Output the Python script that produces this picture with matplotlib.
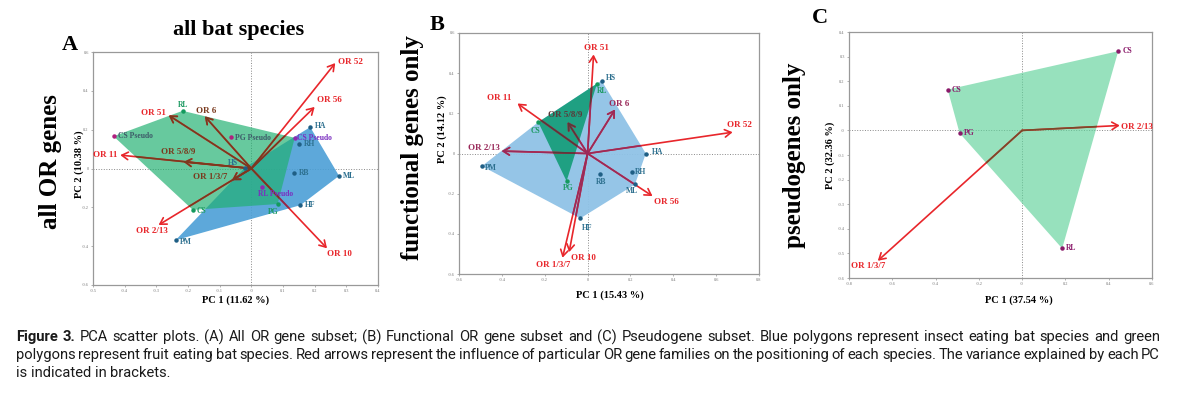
import matplotlib.pyplot as plt
import numpy as np
from matplotlib.patches import Polygon, FancyArrowPatch
from matplotlib.path import Path
from matplotlib import font_manager

plt.rcParams['font.family'] = ['Liberation Serif', 'DejaVu Serif']

# ---- panel A : all OR genes ----
a_species = ['RL', 'CS Pseudo', 'PG Pseudo', 'HS', 'HA', 'CS Pseudo', 'RH',
             'RB', 'ML', 'RL Pseudo', 'HF', 'PG', 'CS', 'PM']
a_x = [-0.217, -0.435, -0.065, -0.02, 0.186, 0.137, 0.152, 0.136, 0.277,
       0.033, 0.155, 0.083, -0.185, -0.239]
a_y = [0.297, 0.166, 0.163, 0.005, 0.213, 0.158, 0.125, -0.022, -0.038,
       -0.093, -0.189, -0.183, -0.213, -0.369]
a_group = ['fruit', 'pseudo', 'pseudo', 'insect', 'insect', 'pseudo2', 'insect',
           'insect', 'insect', 'pseudo2', 'insect', 'fruit', 'fruit', 'insect']
a_fruit_hull = [1, 0, 5, 11, 12]
a_insect_hull = [13, 3, 4, 8, 10]
a_or = ['OR 52', 'OR 56', 'OR 10', 'OR 2/13', 'OR 11', 'OR 51', 'OR 6',
        'OR 5/8/9', 'OR 1/3/7']
a_or_x = [0.265, 0.200, 0.239, -0.293, -0.414, -0.261, -0.147, -0.214, -0.061]
a_or_y = [0.543, 0.317, -0.411, -0.291, 0.069, 0.274, 0.269, 0.034, -0.060]

# ---- panel B : functional genes only ----
b_species = ['HS', 'RL', 'CS', 'PM', 'PG', 'RB', 'RH', 'ML', 'HA', 'HF']
b_x = [0.065, 0.044, -0.230, -0.493, -0.098, 0.059, 0.207, 0.221, 0.272, -0.034]
b_y = [0.363, 0.348, 0.156, -0.063, -0.138, -0.100, -0.091, -0.154, 0.000, -0.323]
b_group = ['insect', 'fruit', 'fruit', 'insect', 'fruit', 'insect', 'insect',
           'insect', 'insect', 'insect']
b_fruit_hull = [2, 1, 4]
b_insect_hull = [3, 2, 0, 8, 7, 9]
b_or = ['OR 51', 'OR 11', 'OR 5/8/9', 'OR 6', 'OR 52', 'OR 2/13', 'OR 56',
        'OR 10', 'OR 1/3/7']
b_or_x = [0.028, -0.327, -0.093, 0.128, 0.677, -0.401, 0.303, -0.086, -0.117]
b_or_y = [0.493, 0.249, 0.156, 0.219, 0.106, 0.012, -0.212, -0.491, -0.519]

# ---- panel C : pseudogenes only ----
c_species = ['CS', 'CS', 'PG', 'RL']
c_x = [0.444, -0.344, -0.289, 0.185]
c_y = [0.322, 0.166, -0.011, -0.480]
c_group = ['pseudo3'] * 4
c_fruit_hull = [1, 0, 3, 2]
c_or = ['OR 2/13', 'OR 1/3/7']
c_or_x = [0.451, -0.667]
c_or_y = [0.020, -0.530]

# label placement (offset in points, horizontal alignment)
a_lab = [((0, 4), 'center'), ((3, 0), 'left'), ((3, -1), 'left'), ((-9, 3), 'center'),
         ((3, 1), 'left'), ((2, 0), 'left'), ((3, 0), 'left'), ((3, 0), 'left'),
         ((3, 0), 'left'), ((10, -5), 'center'), ((3, 0), 'left'), ((-3, -6), 'center'),
         ((3, -1), 'left'), ((3, -1), 'left')]
a_or_lab = [((2, 1), 'left'), ((2, 5), 'left'), ((0, -4), 'left'), ((-5, -4), 'center'),
            ((-2, 0), 'right'), ((-11, 2), 'center'), ((1, 4), 'center'),
            ((-4, 7), 'center'), ((-16, 2), 'center')]
b_lab = [((3, 2), 'left'), ((0, -5), 'left'), ((-2, -6), 'center'), ((2, -1), 'left'),
         ((1, -5), 'center'), ((1, -6), 'center'), ((2, 0), 'left'), ((-2, -5), 'center'),
         ((4, 1), 'left'), ((5, -7), 'center')]
b_or_lab = [((2, 5), 'center'), ((-13, 4), 'center'), ((-2, 5), 'center'),
            ((3, 4), 'center'), ((5, 5), 'center'), ((-1, 2), 'right'),
            ((10, -4), 'center'), ((10, -4), 'center'), ((-7, -5), 'center')]
c_lab = [((3, 0), 'left')] * 4
c_or_lab = [((1, -1), 'left'), ((-7, -4), 'center')]

point_col = {'insect': '#1f5f85', 'fruit': '#149a5e', 'pseudo': '#b0207f',
             'pseudo2': '#8e2ab0', 'pseudo3': '#8a1a6a'}
label_col = {'insect': '#2c6f8e', 'fruit': '#1c9a62', 'pseudo': '#3d5a68',
             'pseudo2': '#7a2ec0', 'pseudo3': '#8a1a6a'}
RED = '#e8262b'

fig = plt.figure(figsize=(11.78, 3.97), dpi=100)


def draw_panel(rect, xlim, ylim, xticks, yticks, names, xs, ys, groups, hulls,
               ors, orx, ory, lab, or_lab, xlabel, ylabel, xl_pos, yl_pos):
    ax = fig.add_axes(rect)
    ax.set_xlim(xlim)
    ax.set_ylim(ylim)
    ax.set_xticks(xticks)
    ax.set_yticks(yticks)
    ax.set_xticklabels(['%g' % t for t in xticks])
    ax.set_yticklabels(['%g' % t for t in yticks])
    ax.tick_params(labelsize=3.2, colors='#777777', length=1.5, width=0.4, pad=1.5)
    for s in ax.spines.values():
        s.set_color('#999999')
        s.set_linewidth(0.9)
    ax.axhline(0, ls=':', color='#888888', lw=0.7, zorder=0.5)
    ax.axvline(0, ls=':', color='#888888', lw=0.7, zorder=0.5)

    polys = []
    for idx, fc, alpha, dark in hulls:
        pts = [(xs[i], ys[i]) for i in idx]
        p = Polygon(pts, closed=True, facecolor=fc, alpha=alpha, edgecolor='none', zorder=1)
        ax.add_patch(p)
        polys.append((p, Path(pts), dark))

    for k, name in enumerate(ors):
        arr = FancyArrowPatch((0, 0), (orx[k], ory[k]), arrowstyle='->,head_length=0.5,head_width=0.3',
                              mutation_scale=9, lw=1.2, color=RED, shrinkA=0, shrinkB=0, zorder=2)
        ax.add_patch(arr)
        # darker copy of the arrow where it runs under a polygon
        for z, (p, path, dark) in enumerate(polys):
            a2 = FancyArrowPatch((0, 0), (orx[k], ory[k]), arrowstyle='->,head_length=0.5,head_width=0.3',
                                 mutation_scale=9, lw=1.2, color=dark, shrinkA=0, shrinkB=0,
                                 zorder=2.1 + z * 0.1)
            ax.add_patch(a2)
            a2.set_clip_path(p)
        off, ha = or_lab[k]
        col = RED
        for p, path, dark in polys:
            if path.contains_point((orx[k], ory[k])) and path.contains_point((orx[k] * 0.9, ory[k] * 0.9)):
                col = dark
        ax.annotate(name, (orx[k], ory[k]), xytext=off, textcoords='offset points',
                    ha=ha, va='center', fontsize=6.5, fontweight='bold', color=col, zorder=6)

    for i, name in enumerate(names):
        ax.plot(xs[i], ys[i], 'o', ms=2.2, color=point_col[groups[i]], zorder=4)
        off, ha = lab[i]
        ax.annotate(name, (xs[i], ys[i]), xytext=off, textcoords='offset points',
                    ha=ha, va='center', fontsize=5.5, fontweight='bold',
                    color=label_col[groups[i]], zorder=5)

    ax.text(xl_pos[0], xl_pos[1], xlabel, transform=ax.transAxes, ha='center', va='center',
            fontsize=7.5, fontweight='bold')
    ax.text(yl_pos[0], yl_pos[1], ylabel, transform=ax.transAxes, ha='center', va='center',
            fontsize=7.5, fontweight='bold', rotation=90)
    return ax


draw_panel([93 / 1178, 112 / 397, 285 / 1178, 233 / 397], (-0.5, 0.4), (-0.6, 0.6),
           np.round(np.arange(-0.5, 0.41, 0.1), 1), np.round(np.arange(-0.6, 0.61, 0.2), 1),
           a_species, a_x, a_y, a_group,
           [(a_insect_hull, '#4b9fd6', 0.9, '#8a2a50'), (a_fruit_hull, '#1fb070', 0.68, '#7a3a1e')],
           a_or, a_or_x, a_or_y, a_lab, a_or_lab,
           'PC 1 (11.62 %)', 'PC 2 (10.38 %)', (0.5, -0.066), (-0.047, 0.52))

draw_panel([459 / 1178, 123 / 397, 300 / 1178, 241 / 397], (-0.6, 0.8), (-0.6, 0.6),
           np.round(np.arange(-0.6, 0.81, 0.2), 1), np.round(np.arange(-0.6, 0.61, 0.2), 1),
           b_species, b_x, b_y, b_group,
           [(b_insect_hull, '#8fc2e6', 0.95, '#9a2a5a'), (b_fruit_hull, '#0a9a70', 0.85, '#5a3a3a')],
           b_or, b_or_x, b_or_y, b_lab, b_or_lab,
           'PC 1 (15.43 %)', 'PC 2 (14.12 %)', (0.503, -0.087), (-0.055, 0.6))

draw_panel([849 / 1178, 119 / 397, 303 / 1178, 246 / 397], (-0.8, 0.6), (-0.6, 0.4),
           np.round(np.arange(-0.8, 0.61, 0.2), 1), np.round(np.arange(-0.6, 0.41, 0.1), 1),
           c_species, c_x, c_y, c_group,
           [(c_fruit_hull, '#5fd29a', 0.65, '#7a4a2a')],
           c_or, c_or_x, c_or_y, c_lab, c_or_lab,
           'PC 1 (37.54 %)', 'PC 2 (32.36 %)', (0.56, -0.089), (-0.063, 0.5))

# panel letters and side titles
fig.text(70 / 1178, 1 - 45 / 397, 'A', fontsize=16, fontweight='bold', ha='center', va='center')
fig.text(437 / 1178, 1 - 25 / 397, 'B', fontsize=16, fontweight='bold', ha='center', va='center')
fig.text(820 / 1178, 1 - 18 / 397, 'C', fontsize=16, fontweight='bold', ha='center', va='center')
fig.text(239 / 1178, 1 - 30 / 397, 'all bat species', fontsize=16, fontweight='bold',
         ha='center', va='center')
fig.text(50 / 1178, 1 - 162 / 397, 'all OR genes', fontsize=18, fontweight='bold',
         ha='center', va='center', rotation=90)
fig.text(413 / 1178, 1 - 148 / 397, 'functional genes only', fontsize=18, fontweight='bold',
         ha='center', va='center', rotation=90)
fig.text(795 / 1178, 1 - 155 / 397, 'pseudogenes only', fontsize=18, fontweight='bold',
         ha='center', va='center', rotation=90)

# caption, justified over the figure width
names_avail = {f.name for f in font_manager.fontManager.ttflist}
cap_font = 'Liberation Sans Narrow' if 'Liberation Sans Narrow' in names_avail else 'Roboto'
cap_size = 10.5 if cap_font == 'Liberation Sans Narrow' else 10.6
caption = [
    'Figure 3. PCA scatter plots. (A) All OR gene subset; (B) Functional OR gene subset and (C) '
    'Pseudogene subset. Blue polygons represent insect eating bat species and green',
    'polygons represent fruit eating bat species. Red arrows represent the influence of particular '
    'OR gene families on the positioning of each species. The variance explained by each PC',
    'is indicated in brackets.',
]
renderer = fig.canvas.get_renderer()
x0, x1 = 16, 1160
for li, line in enumerate(caption):
    y = 1 - (337 + 18 * li) / 397
    words = line.split(' ')
    texts = []
    for wi, w in enumerate(words):
        bold = (li == 0 and wi < 2)
        t = fig.text(0, y, w, fontsize=cap_size, family=cap_font, color='#1a1a1a',
                     fontweight='bold' if bold else 'normal', va='center')
        texts.append(t)
    widths = [t.get_window_extent(renderer).width for t in texts]
    if li < len(caption) - 1:
        gap = max((x1 - x0 - sum(widths)) / (len(words) - 1), 2.0)
    else:
        gap = cap_size * 100 / 72 * 0.25
    x = x0
    for t, w in zip(texts, widths):
        t.set_x(x / 1178)
        x += w + gap

fig.savefig('out.png', dpi=100)
